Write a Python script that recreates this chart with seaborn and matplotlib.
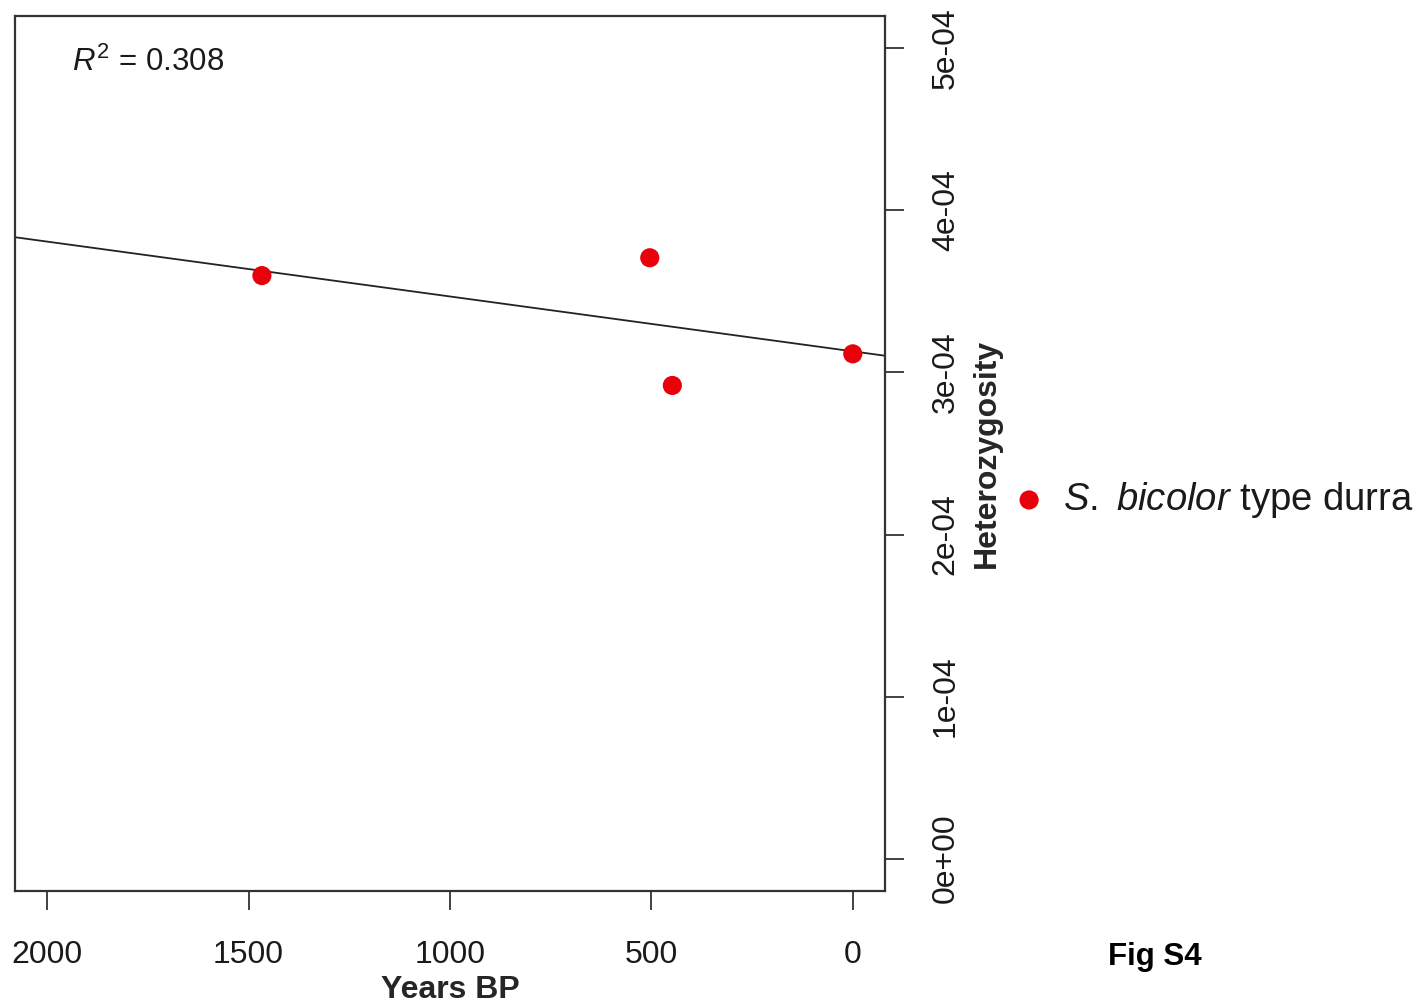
import numpy as np
import pandas as pd
import matplotlib
matplotlib.use("Agg")
import matplotlib.pyplot as plt
import seaborn as sns

# Heterozygosity of S. bicolor type durra samples through time
years_bp = [1467, 504, 448, 0]
heterozygosity = [3.598e-4, 3.708e-4, 2.920e-4, 3.115e-4]

x_ticks = [2000, 1500, 1000, 500, 0]
x_tick_labels = ["2000", "1500", "1000", "500", "0"]
y_ticks = [0.0, 1e-4, 2e-4, 3e-4, 4e-4, 5e-4]
y_tick_labels = ["0e+00", "1e-04", "2e-04", "3e-04", "4e-04", "5e-04"]
r_squared_label = "0.308"
series_label = r"$\mathit{S.}$ $\mathit{bicolor}$ type durra"

sns.set_style("white")
plt.rcParams["font.family"] = ["Liberation Sans", "DejaVu Sans"]
plt.rcParams.update({
    "mathtext.fontset": "custom",
    "mathtext.rm": "Liberation Sans",
    "mathtext.it": "Liberation Sans:italic",
    "mathtext.bf": "Liberation Sans:bold",
    "text.color": "#1a1a1a",
})

W, H = 1417, 1005
fig = plt.figure(figsize=(W / 100, H / 100), dpi=100)
fig.patch.set_facecolor("white")
ax = fig.add_axes([15 / W, 114 / H, 870 / W, 875 / H])

df = pd.DataFrame({"Years BP": years_bp, "Heterozygosity": heterozygosity})
sns.scatterplot(data=df, x="Years BP", y="Heterozygosity", color="#e8000b",
                s=190, edgecolor="none", linewidth=0, label=series_label,
                ax=ax, zorder=3)

# Least-squares fit drawn across the whole panel
slope, intercept = np.polyfit(years_bp, heterozygosity, 1)
ax.axline((0, intercept), slope=slope, color="#222222", lw=1.3, zorder=2)

ax.set_xlim(2080, -80)
ax.set_ylim(-2e-5, 5.2e-4)

for sp in ax.spines.values():
    sp.set_visible(True)
    sp.set_color("#333333")
    sp.set_linewidth(1.6)

ax.yaxis.tick_right()
ax.yaxis.set_label_position("right")
ax.tick_params(axis="x", bottom=True, top=False)
ax.tick_params(axis="y", right=True, left=False)
ax.tick_params(axis="both", direction="out", length=14, width=1.3,
               color="#333333", labelsize=23, labelcolor="#1a1a1a")
ax.tick_params(axis="x", pad=21)
ax.tick_params(axis="y", pad=19)
ax.set_xticks(x_ticks, x_tick_labels)
ax.set_yticks(y_ticks, y_tick_labels, rotation=90, va="center")

ax.set_xlabel("Years BP", fontweight="bold", fontsize=23, labelpad=4)
ax.set_ylabel("Heterozygosity", fontweight="bold", fontsize=23, labelpad=8)

ax.text(0.066, 0.947, "$R^2$ = " + r_squared_label, transform=ax.transAxes,
        fontsize=22.5, va="center", ha="left")

ax.legend(loc="center left", bbox_to_anchor=(1010 / W, 1 - 500 / H),
          bbox_transform=fig.transFigure, frameon=False, fontsize=27.5,
          handlelength=1.0, handletextpad=0.4, borderpad=0, borderaxespad=0)

fig.text(1155 / W, 1 - 957 / H, "Fig S4", ha="center", va="center",
         fontweight="bold", fontsize=22.5, color="black")

fig.savefig("out.png", dpi=100)
